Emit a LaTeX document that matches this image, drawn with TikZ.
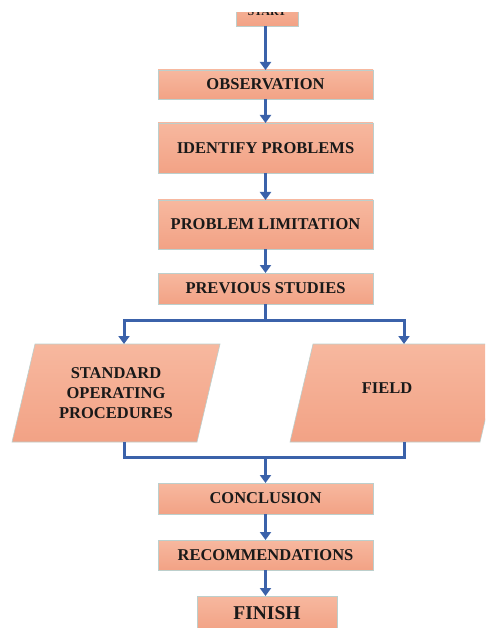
\documentclass[tikz,border=0pt]{standalone}
\usepackage{fontspec}
\setmainfont{Liberation Serif}
\usetikzlibrary{arrows.meta}
\definecolor{boxtop}{HTML}{F7B89F}
\definecolor{boxbot}{HTML}{F2A285}
\definecolor{boxedge}{HTML}{BCCFCC}
\definecolor{flowblue}{HTML}{3B62AA}
\begin{document}
\begin{tikzpicture}[x=1pt,y=-1pt,
  boxpaint/.style={draw=boxedge, line width=0.6pt, top color=boxtop, bottom color=boxbot},
  box/.style={boxpaint, inner sep=0pt, outer sep=0pt, minimum width=215pt,
    font=\bfseries\fontsize{16.5}{20}\selectfont, text=black!90, align=center},
  ptext/.style={font=\bfseries\fontsize{16.5}{20}\selectfont, text=black!90, align=center,
    inner sep=0pt},
  conn/.style={draw=flowblue, line width=3pt},
  arr/.style={conn, -{Triangle[width=11pt,length=8pt]}}]
\useasboundingbox (0,0) rectangle (485,628);
\fill[white] (0,0) rectangle (485,628);
\clip (0,0) rectangle (485,628);

% start box, only its lower strip shows
\begin{scope}
  \clip (0,13) rectangle (485,40);
  \node[box, minimum width=62pt, minimum height=28pt,
        font=\bfseries\fontsize{12}{14}\selectfont] (start) at (267,12) {START};
\end{scope}

% main column
\node[box, minimum height=29pt] (obs)   at (265.5,84.5)  {OBSERVATION};
\node[box, minimum height=50pt] (ident) at (265.5,148)   {IDENTIFY PROBLEMS};
\node[box, minimum height=49pt] (lim)   at (265.5,224.5) {PROBLEM LIMITATION};
\node[box, minimum height=31pt] (prev)  at (265.5,288.5) {PREVIOUS STUDIES};

% the two branch parallelograms
\path[boxpaint] (35,344) -- (220,344) -- (197,442) -- (12,442) -- cycle;
\path[boxpaint] (313,344) -- (503,344) -- (480,442) -- (290,442) -- cycle;
\node[ptext] (sop)   at (116,393) {STANDARD\\OPERATING\\PROCEDURES};
\node[ptext] (field) at (387,388) {FIELD};
\coordinate (sopTop) at (124,344);
\coordinate (sopBot) at (124,442);
\coordinate (fieldTop) at (404,344);
\coordinate (fieldBot) at (404,442);

\node[box, minimum height=31pt] (concl) at (265.5,498.5) {CONCLUSION};
\node[box, minimum height=30pt] (rec)   at (265.5,555)   {RECOMMENDATIONS};
\node[box, minimum width=140pt, minimum height=34pt,
      font=\bfseries\fontsize{19.5}{22}\selectfont] (finish) at (267,613) {FINISH};

% connectors
\draw[arr] (start.south -| obs.north) -- (obs.north);
\draw[arr] (obs.south) -- (ident.north);
\draw[arr] (ident.south) -- (lim.north);
\draw[arr] (lim.south) -- (prev.north);

\coordinate (splitL) at (124,320);
\coordinate (splitR) at (404,320);
\draw[conn] (prev.south) -- (prev.south |- splitL);
\draw[arr, line join=miter] (prev.south |- splitL) -- (splitL) -- (sopTop);
\draw[arr, line join=miter] (prev.south |- splitR) -- (splitR) -- (fieldTop);

\coordinate (joinL) at (124,457);
\coordinate (joinR) at (404,457);
\draw[conn, line join=miter] (sopBot) -- (joinL) -- (joinR) -- (fieldBot);
\draw[arr] (joinL -| concl.north) -- (concl.north);

\draw[arr] (concl.south) -- (rec.north);
\draw[arr] (rec.south) -- (rec.south |- finish.north);
\end{tikzpicture}
\end{document}
